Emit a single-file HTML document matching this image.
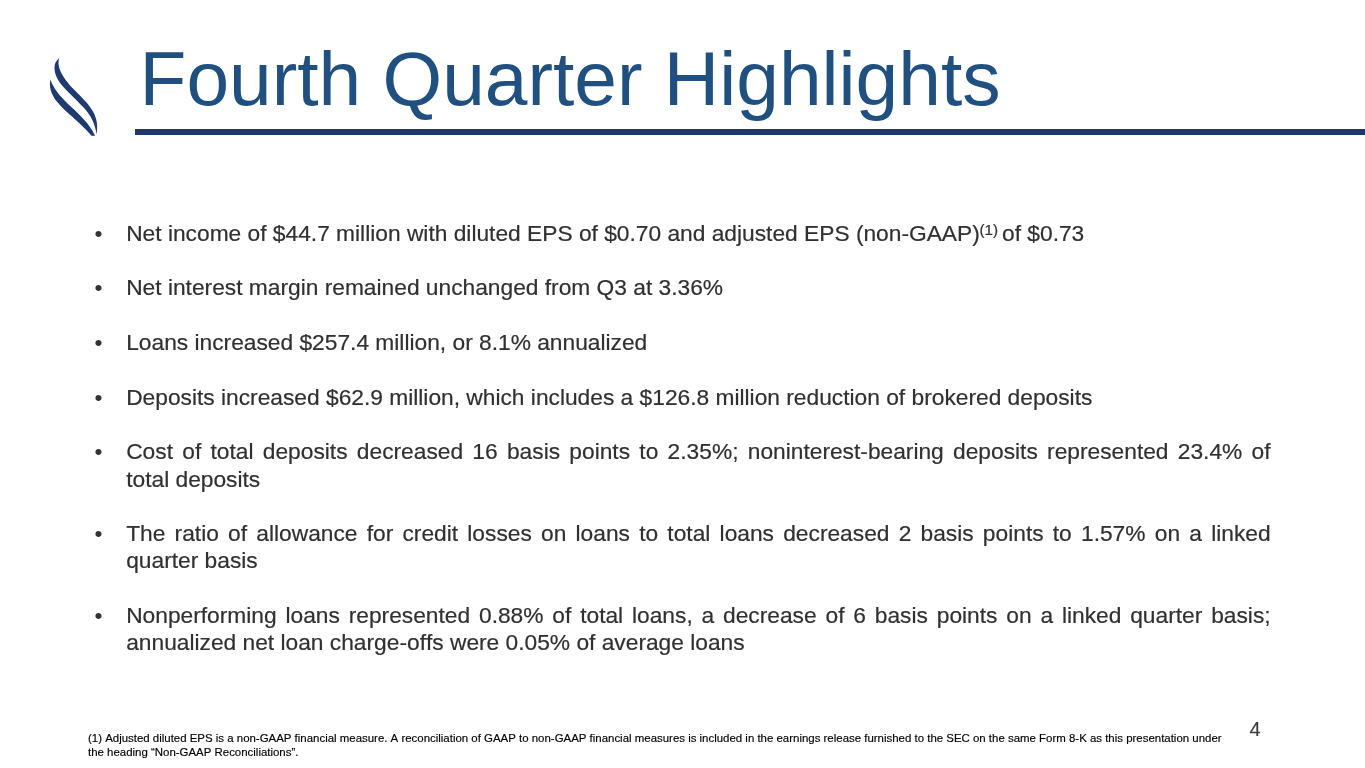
<!DOCTYPE html>
<html lang="en">
<head>
<meta charset="utf-8">
<title>Fourth Quarter Highlights</title>
<style>
  html, body { margin: 0; padding: 0; }
  body { width: 1365px; height: 768px; background: #fff; position: relative; overflow: hidden;
         font-family: "Liberation Sans", Arial, sans-serif; font-kerning: none; }
  .logo { position: absolute; left: 40px; top: 50px; width: 70px; height: 95px; }
  h1 { position: absolute; left: 139.6px; top: 34.6px; margin: 0; font-weight: normal;
       font-size: 76.7px; line-height: 88px; color: #1f5080; white-space: nowrap; }
  .rule { position: absolute; left: 135px; top: 129px; width: 1230px; height: 5.5px; background: #20376a; }
  .ln { position: absolute; left: 126.2px; width: 1144.4px; height: 27.3px; line-height: 27.3px;
        font-size: 22.75px; color: #303030; -webkit-text-stroke: 0.2px #303030; white-space: nowrap; }
  .ln.j { text-align: justify; text-align-last: justify; white-space: normal; }
  .bl { position: absolute; left: 94.5px; font-size: 22.75px; line-height: 27.3px; color: #333; }
  sup { font-size: 15.17px; line-height: 0; vertical-align: baseline; position: relative; top: -6.2px; left: -0.4px; margin-right: -0.5px; }
  .fn { position: absolute; left: 88px; top: 732.2px; margin: 0; font-size: 11.452px; line-height: 13.6px; font-kerning: none;
        color: #000; -webkit-text-stroke: 0.15px #000; white-space: nowrap; }
  .pg { position: absolute; left: 1249.4px; top: 716px; font-size: 19.9px; line-height: 27px; color: #3c3c3c; -webkit-text-stroke: 0.15px #3c3c3c; }
</style>
</head>
<body>
<svg class="logo" viewBox="40 50 70 95" aria-hidden="true">
  <path fill="#1f3a6e" d="M58.90 58.00 C58.84 58.99 58.35 61.98 58.52 63.93 C58.68 65.88 59.22 67.82 59.87 69.68 C60.52 71.54 61.46 73.37 62.43 75.10 C63.40 76.84 64.53 78.48 65.69 80.08 C66.86 81.67 68.12 83.17 69.41 84.66 C70.69 86.14 72.06 87.56 73.42 88.98 C74.79 90.40 76.21 91.78 77.60 93.18 C79.00 94.59 80.42 95.97 81.80 97.41 C83.18 98.84 84.56 100.28 85.87 101.79 C87.17 103.29 88.47 104.83 89.63 106.42 C90.80 108.02 91.91 109.66 92.86 111.36 C93.81 113.07 94.68 114.82 95.33 116.65 C95.99 118.48 96.51 120.37 96.81 122.33 C97.11 124.29 97.16 126.40 97.12 128.39 C97.09 130.39 96.69 133.32 96.60 134.30 C96.38 133.30 95.81 130.26 95.28 128.28 C94.76 126.31 94.20 124.31 93.45 122.44 C92.69 120.56 91.76 118.77 90.74 117.04 C89.72 115.30 88.54 113.65 87.32 112.04 C86.09 110.42 84.74 108.88 83.38 107.35 C82.02 105.83 80.57 104.36 79.15 102.90 C77.72 101.44 76.26 100.02 74.82 98.59 C73.38 97.16 71.95 95.76 70.51 94.33 C69.07 92.89 67.61 91.47 66.20 89.99 C64.79 88.50 63.34 87.01 62.04 85.43 C60.75 83.84 59.48 82.22 58.43 80.48 C57.39 78.74 56.42 76.90 55.77 74.98 C55.11 73.06 54.59 70.95 54.51 68.97 C54.44 66.99 54.60 64.91 55.33 63.08 C56.06 61.25 58.31 58.85 58.90 58.00 Z"/>
  <path fill="#1f3a6e" d="M50.40 79.60 C50.71 80.35 51.55 82.64 52.25 84.09 C52.95 85.53 53.75 86.91 54.60 88.26 C55.45 89.60 56.38 90.90 57.35 92.17 C58.31 93.44 59.34 94.67 60.39 95.88 C61.44 97.09 62.54 98.27 63.65 99.44 C64.76 100.60 65.91 101.74 67.07 102.88 C68.22 104.02 69.40 105.14 70.58 106.26 C71.75 107.38 72.94 108.49 74.11 109.61 C75.28 110.73 76.46 111.85 77.61 112.98 C78.76 114.11 79.91 115.25 81.03 116.41 C82.14 117.57 83.25 118.74 84.31 119.93 C85.37 121.13 86.42 122.35 87.41 123.60 C88.40 124.85 89.37 126.12 90.27 127.43 C91.18 128.75 92.05 130.10 92.85 131.49 C93.66 132.88 94.73 135.08 95.10 135.80 L91.30 135.80 C90.78 135.19 89.23 133.31 88.16 132.11 C87.08 130.91 85.98 129.75 84.86 128.61 C83.74 127.46 82.60 126.35 81.45 125.24 C80.30 124.13 79.12 123.05 77.95 121.97 C76.77 120.88 75.58 119.82 74.39 118.74 C73.21 117.67 72.01 116.60 70.82 115.52 C69.63 114.44 68.43 113.37 67.25 112.27 C66.07 111.17 64.88 110.06 63.72 108.93 C62.56 107.79 61.39 106.64 60.28 105.46 C59.17 104.27 58.07 103.06 57.06 101.81 C56.05 100.56 55.08 99.28 54.24 97.95 C53.39 96.61 52.62 95.24 52.00 93.81 C51.37 92.37 50.86 90.89 50.51 89.35 C50.17 87.82 49.96 86.22 49.94 84.59 C49.92 82.97 50.32 80.43 50.40 79.60 Z"/>
</svg>
<h1>Fourth Quarter Highlights</h1>
<div class="rule"></div>

<span class="bl" style="top:219.85px">•</span>
<div class="ln" style="top:219.85px">Net income of $44.7 million with diluted EPS of $0.70 and adjusted EPS (non-GAAP)<sup>(1) </sup>of $0.73</div>
<span class="bl" style="top:274.45px">•</span>
<div class="ln" style="top:274.45px">Net interest margin remained unchanged from Q3 at 3.36%</div>
<span class="bl" style="top:329.05px">•</span>
<div class="ln" style="top:329.05px">Loans increased $257.4 million, or 8.1% annualized</div>
<span class="bl" style="top:383.65px">•</span>
<div class="ln" style="top:383.65px">Deposits increased $62.9 million, which includes a $126.8 million reduction of brokered deposits</div>
<span class="bl" style="top:438.25px">•</span>
<div class="ln j" style="top:438.25px">Cost of total deposits decreased 16 basis points to 2.35%; noninterest-bearing deposits represented 23.4% of</div>
<div class="ln" style="top:465.55px">total deposits</div>
<span class="bl" style="top:520.15px">•</span>
<div class="ln j" style="top:520.15px">The ratio of allowance for credit losses on loans to total loans decreased 2 basis points to 1.57% on a linked</div>
<div class="ln" style="top:547.45px">quarter basis</div>
<span class="bl" style="top:602.05px">•</span>
<div class="ln j" style="top:602.05px">Nonperforming loans represented 0.88% of total loans, a decrease of 6 basis points on a linked quarter basis;</div>
<div class="ln" style="top:629.35px">annualized net loan charge-offs were 0.05% of average loans</div>

<p class="fn">(1) Adjusted diluted EPS is a non-GAAP financial measure. A reconciliation of GAAP to non-GAAP financial measures is included in the earnings release furnished to the SEC on the same Form 8-K as this presentation under<br>the heading “Non-GAAP Reconciliations”.</p>
<div class="pg">4</div>
</body>
</html>
